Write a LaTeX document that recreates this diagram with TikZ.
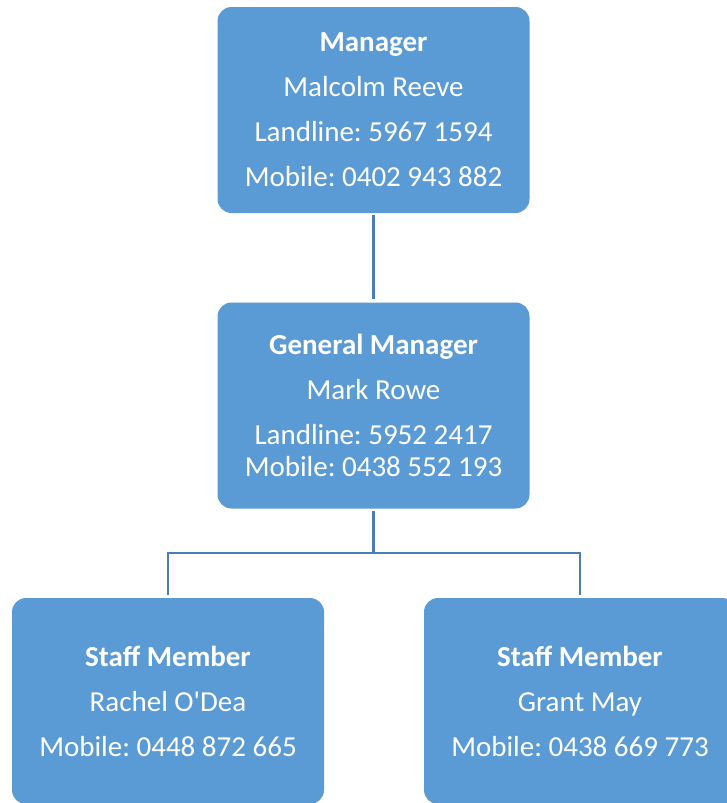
\documentclass[tikz,border=0pt]{standalone}
\usepackage{fontspec}
\setmainfont{Carlito}
\frenchspacing

\definecolor{boxblue}{HTML}{5B9BD5}
\definecolor{lineblue}{HTML}{4A7EBB}

\begin{document}
\begin{tikzpicture}[
    x=1pt, y=-1pt,
    person/.style={fill=boxblue, text=white, rounded corners=14pt, minimum width=312pt, minimum height=206pt, align=center, font=\fontsize{29}{45}\selectfont},
    link/.style={draw=lineblue, line width=2.2pt, shorten <=2pt, shorten >=3pt}
]
    \useasboundingbox (0, 0) rectangle (726, 803);

    % MANAGEMENT
    \node (manager) at (373.5, 110) [person] {\textbf{Manager}\\Malcolm Reeve\\Landline: 5967 1594\\Mobile: 0402 943 882};
    \node (gen_manager) at (373.5, 405.5) [person] {\textbf{General Manager}\\Mark Rowe\\Landline: 5952 2417\\[-13pt]Mobile: 0438 552 193};

    % STAFF
    \node (staff_01) at (168, 701) [person] {\textbf{Staff Member}\\Rachel O\textquotesingle Dea\\Mobile: 0448 872 665};
    \node (staff_02) at (580, 701) [person] {\textbf{Staff Member}\\Grant May\\Mobile: 0438 669 773};

    % Connect the boxes
    \coordinate (split) at (373.5, 553);
    \draw[link] (manager) -- (gen_manager);
    \draw[link, shorten >=0pt] (gen_manager) -- (split);
    \draw[link, shorten <=0pt] (split) -| (staff_01);
    \draw[link, shorten <=0pt] (split) -| (staff_02);
\end{tikzpicture}
\end{document}
